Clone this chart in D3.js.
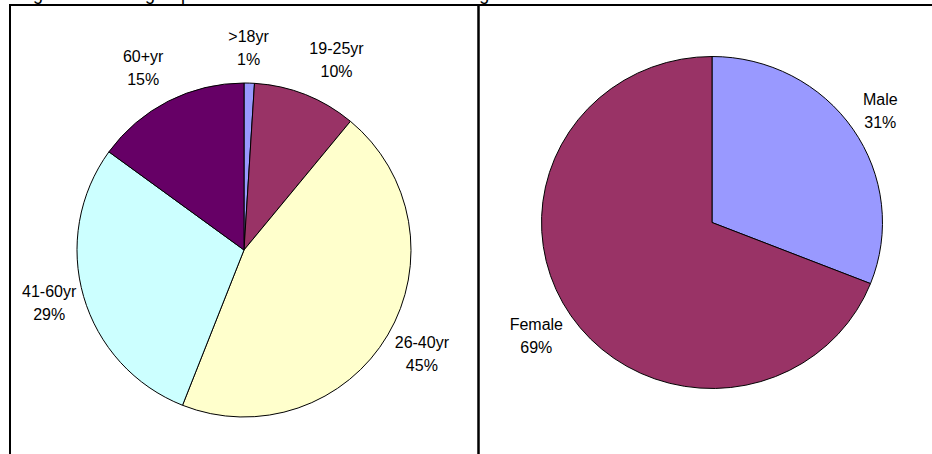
<!DOCTYPE html>
<html>
<head>
<meta charset="utf-8">
<script src="https://cdn.jsdelivr.net/npm/d3@7"></script>
<style>
  body { margin: 0; background: #fff; }
  svg { display: block; font-family: "Liberation Sans", Arial, sans-serif; }
</style>
</head>
<body>
<div class="chart"></div>
<script>
const ageGroups = ['>18yr', '19-25yr', '26-40yr', '41-60yr', '60+yr'];
const agePercent = [1, 10, 45, 29, 15];
const ageColors = ['#9999FF', '#993366', '#FFFFCC', '#CCFFFF', '#660066'];

const genders = ['Male', 'Female'];
const genderPercent = [31, 69];
const genderColors = ['#9999FF', '#993366'];

const title = 'Figure 1: Client group characteristics \u2013 breakdown as to Age and Gender';

const width = 932;
const height = 454;

// where Excel put each label: [angle in degrees from 12 o'clock, distance from centre]
const ageLabelPos = [[1.3, 202], [26, 211], [120.3, 206], [254.7, 202], [331, 208]];
const genderLabelPos = [[56.4, 202], [237.2, 209]];

const svg = d3
  .select('.chart')
  .append('svg')
  .attr('width', width)
  .attr('height', height);

// caption above the chart, mostly cut off by the top of the picture
svg
  .append('text')
  .attr('x', 18)
  .attr('y', -0.5)
  .attr('font-size', 18)
  .text(title);

// frame
svg.append('line').attr('x1', 9).attr('x2', width).attr('y1', 5).attr('y2', 5)
  .attr('stroke', '#000').attr('stroke-width', 2);
svg.append('line').attr('x1', 10).attr('x2', 10).attr('y1', 4).attr('y2', height)
  .attr('stroke', '#000').attr('stroke-width', 2);
svg.append('line').attr('x1', 478.5).attr('x2', 478.5).attr('y1', 4).attr('y2', height)
  .attr('stroke', '#000').attr('stroke-width', 2.5);

function drawPie(names, values, colors, labelPos, cx, cy, r, sx) {
  const pie = d3.pie().sort(null).value((d) => d.value);
  const arc = d3.arc().innerRadius(0).outerRadius(r);
  const data = names.map((n, i) => ({ name: n, value: values[i], color: colors[i] }));

  const g = svg.append('g').attr('transform', `translate(${cx},${cy})`);

  g.append('g')
    .attr('transform', `scale(${sx},1)`)
    .selectAll('path')
    .data(pie(data))
    .enter()
    .append('path')
    .attr('d', arc)
    .attr('fill', (d) => d.data.color)
    .attr('stroke', '#000')
    .attr('stroke-width', 1 / sx)
    .attr('stroke-linejoin', 'round');

  const labels = g
    .selectAll('text')
    .data(data)
    .enter()
    .append('text')
    .attr('text-anchor', 'middle')
    .attr('font-size', 16)
    .attr('fill', '#000')
    .attr('transform', (d, i) => {
      const p = d3.pointRadial((labelPos[i][0] * Math.PI) / 180, labelPos[i][1]);
      return `translate(${p[0]},${p[1]})`;
    });

  labels.append('tspan').attr('x', 0).attr('y', -6).text((d) => d.name);
  labels.append('tspan').attr('x', 0).attr('y', 17).text((d) => d.value + '%');
}

drawPie(ageGroups, agePercent, ageColors, ageLabelPos, 244, 250, 167, 1);
drawPie(genders, genderPercent, genderColors, genderLabelPos, 712, 222.5, 166, 1.027);
</script>
</body>
</html>
